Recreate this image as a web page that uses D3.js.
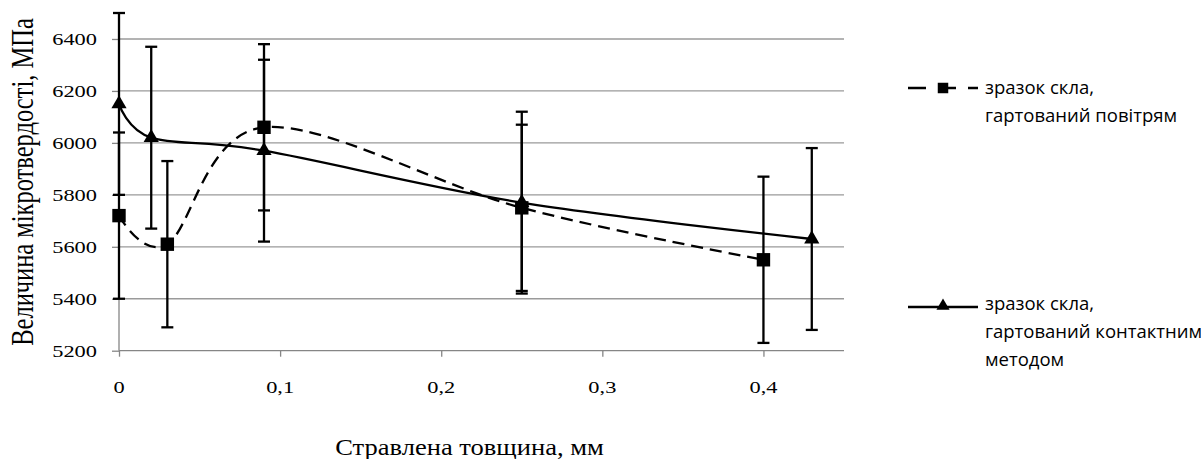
<!DOCTYPE html>
<html>
<head>
<meta charset="utf-8">
<script src="https://cdn.jsdelivr.net/npm/d3@7"></script>
<style>
  body { margin: 0; background: #fff; }
  .tickLabel { font-family: "Liberation Serif", "Times New Roman", serif; font-size: 17.5px; fill: #000; }
  .axisTitle { font-family: "Liberation Serif", "Times New Roman", serif; fill: #000; }
  .legendText { font-family: "Open Sans", "Noto Sans", sans-serif; font-size: 18.5px; fill: #000; }
</style>
</head>
<body>
<div id="chart"></div>
<script>
// data
var airX   = [0, 0.03, 0.09, 0.25, 0.4];
var airY   = [5720, 5610, 6060, 5750, 5550];
var airErr = [320, 320, 320, 320, 320];

var contactX   = [0, 0.02, 0.09, 0.25, 0.43];
var contactY   = [6150, 6020, 5970, 5770, 5630];
var contactErr = [350, 350, 350, 350, 350];

var yTicks = [5200, 5400, 5600, 5800, 6000, 6200, 6400];
var xTicks = [0, 0.1, 0.2, 0.3, 0.4];

var airLabel = ["зразок скла,", "гартований повітрям"];
var contactLabel = ["зразок скла,", "гартований контактним", "методом"];
var yTitle = "Величина мікротвердості, МПа";
var xTitle = "Стравлена товщина, мм";

DrawChart();

function DrawChart(){
  var fullWidth = 1201;
  var fullHeight = 459;
  // the picture is a bit stretched sideways, so the serif text is too
  var stretch = 1.28;

  var svg = d3.select('#chart')
              .append('svg')
              .attr('width', fullWidth)
              .attr('height', fullHeight);

  // scales
  var x = d3.scaleLinear().domain([0, 0.45]).range([119, 844]);
  var y = d3.scaleLinear().domain([5200, 6500]).range([350.7, 13]);

  // horizontal gridlines
  svg.append('g')
     .selectAll('line')
     .data(yTicks.slice(1))
     .enter()
     .append('line')
     .attr('x1', x(0)).attr('x2', x(0.45))
     .attr('y1', function(d){ return y(d); })
     .attr('y2', function(d){ return y(d); })
     .style('stroke', '#9a9a9a')
     .style('stroke-width', 1.3);

  // y axis
  var yAxis = d3.axisLeft(y).tickValues(yTicks).tickSize(7).tickFormat('');
  var gy = svg.append('g')
              .attr('transform', 'translate(' + x(0) + ',0)')
              .call(yAxis);
  gy.select('.domain').attr('d', 'M0,' + y(5200) + 'V' + y(6500));
  gy.selectAll('line, path').style('stroke', '#868686').style('stroke-width', 1.3);

  svg.append('g')
     .selectAll('text')
     .data(yTicks)
     .enter()
     .append('text')
     .attr('class', 'tickLabel')
     .attr('transform', function(d){ return 'translate(97,' + (y(d) + 6) + ') scale(' + stretch + ',1)'; })
     .attr('text-anchor', 'end')
     .text(function(d){ return d; });

  // x axis
  var xAxis = d3.axisBottom(x).tickValues(xTicks).tickSize(6).tickFormat('');
  var gx = svg.append('g')
              .attr('transform', 'translate(0,' + y(5200) + ')')
              .call(xAxis);
  gx.select('.domain').attr('d', 'M' + x(0) + ',0H' + x(0.45));
  gx.selectAll('line, path').style('stroke', '#868686').style('stroke-width', 1.3);

  svg.append('g')
     .selectAll('text')
     .data(xTicks)
     .enter()
     .append('text')
     .attr('class', 'tickLabel')
     .attr('transform', function(d){ return 'translate(' + x(d) + ',393) scale(' + stretch + ',1)'; })
     .attr('text-anchor', 'middle')
     .text(function(d){ return d === 0 ? '0' : String(d).replace('.', ','); });

  // axis titles
  svg.append('text')
     .attr('class', 'axisTitle')
     .style('font-size', '24.5px')
     .attr('transform', 'translate(33,182) scale(' + stretch + ',1) rotate(-90)')
     .attr('text-anchor', 'middle')
     .text(yTitle);

  svg.append('text')
     .attr('class', 'axisTitle')
     .style('font-size', '22.5px')
     .attr('transform', 'translate(469.5,455) scale(1.18,1)')
     .attr('text-anchor', 'middle')
     .text(xTitle);

  var air = airX.map(function(d, i){ return {x: d, y: airY[i], e: airErr[i]}; });
  var contact = contactX.map(function(d, i){ return {x: d, y: contactY[i], e: contactErr[i]}; });

  // error bars
  function ErrorBars(data){
    var g = svg.append('g');
    var cap = 6;
    data.forEach(function(d){
      g.append('line')
       .attr('x1', x(d.x)).attr('x2', x(d.x))
       .attr('y1', y(d.y - d.e)).attr('y2', y(d.y + d.e))
       .style('stroke', '#000').style('stroke-width', 2.3);
      [d.y - d.e, d.y + d.e].forEach(function(v){
        g.append('line')
         .attr('x1', x(d.x) - cap).attr('x2', x(d.x) + cap)
         .attr('y1', y(v)).attr('y2', y(v))
         .style('stroke', '#000').style('stroke-width', 2.3);
      });
    });
  }
  ErrorBars(air);
  ErrorBars(contact);

  // smoothed lines
  var line = d3.line()
               .x(function(d){ return x(d.x); })
               .y(function(d){ return y(d.y); })
               .curve(d3.curveCardinal.tension(0));

  svg.append('path')
     .datum(air)
     .attr('d', line)
     .style('fill', 'none')
     .style('stroke', '#000')
     .style('stroke-width', 2.3)
     .style('stroke-dasharray', '12,7');

  svg.append('path')
     .datum(contact)
     .attr('d', line)
     .style('fill', 'none')
     .style('stroke', '#000')
     .style('stroke-width', 2.3);

  // markers
  var square = d3.symbol().type(d3.symbolSquare).size(180);
  var triangle = d3.symbol().type(d3.symbolTriangle).size(100);

  svg.append('g')
     .selectAll('path')
     .data(air)
     .enter()
     .append('path')
     .attr('d', square)
     .attr('transform', function(d){ return 'translate(' + x(d.x) + ',' + y(d.y) + ')'; })
     .style('fill', '#000');

  svg.append('g')
     .selectAll('path')
     .data(contact)
     .enter()
     .append('path')
     .attr('d', triangle)
     .attr('transform', function(d){ return 'translate(' + x(d.x) + ',' + y(d.y) + ')'; })
     .style('fill', '#000');

  // legend
  var legend = svg.append('g');

  legend.append('line')
        .attr('x1', 908).attr('x2', 978).attr('y1', 88).attr('y2', 88)
        .style('stroke', '#000').style('stroke-width', 2.3)
        .style('stroke-dasharray', '18,12');
  legend.append('path')
        .attr('d', d3.symbol().type(d3.symbolSquare).size(110))
        .attr('transform', 'translate(943,88)')
        .style('fill', '#000');
  legend.selectAll('.l1')
        .data(airLabel)
        .enter()
        .append('text')
        .attr('class', 'legendText')
        .attr('x', 985)
        .attr('y', function(d, i){ return 93.5 + i * 28; })
        .text(function(d){ return d; });

  legend.append('line')
        .attr('x1', 908).attr('x2', 978).attr('y1', 307).attr('y2', 307)
        .style('stroke', '#000').style('stroke-width', 2.3);
  legend.append('path')
        .attr('d', d3.symbol().type(d3.symbolTriangle).size(75))
        .attr('transform', 'translate(943,306)')
        .style('fill', '#000');
  legend.selectAll('.l2')
        .data(contactLabel)
        .enter()
        .append('text')
        .attr('class', 'legendText')
        .attr('x', 985)
        .attr('y', function(d, i){ return 309.5 + i * 28.3; })
        .text(function(d){ return d; });
};
</script>
</body>
</html>
